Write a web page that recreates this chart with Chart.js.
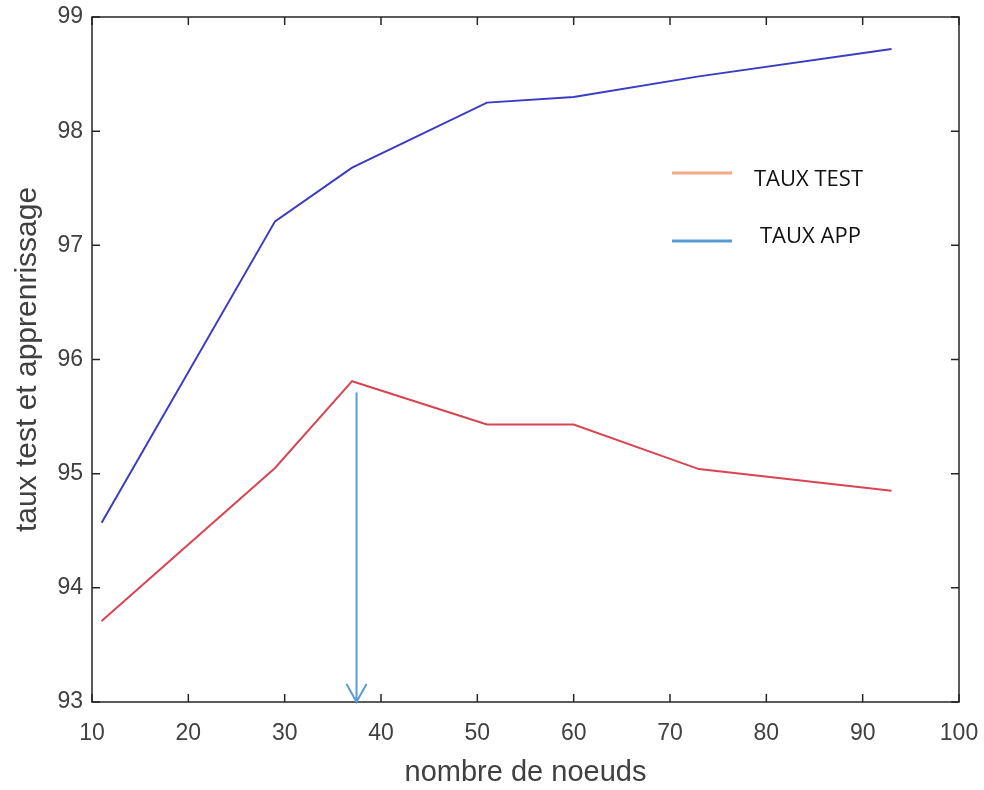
<!DOCTYPE html>
<html>
<head>
<meta charset="utf-8">
<script src="https://cdn.jsdelivr.net/npm/chart.js@4"></script>
<style>
  html, body { margin: 0; padding: 0; background: #fff; }
  #wrap { width: 984px; height: 790px; }
</style>
</head>
<body>
<div id="wrap"><canvas id="chart"></canvas></div>
<script>
// data
var nodes = [11, 29, 37, 51, 60, 73, 93];
var tauxApp = [94.57, 97.21, 97.68, 98.25, 98.30, 98.48, 98.72];
var tauxTest = [93.71, 95.05, 95.81, 95.43, 95.43, 95.04, 94.85];
var arrowX = [37.46, 37.46];
var arrowY = [95.71, 93];
var legendLabels = ["TAUX TEST", "TAUX APP"];
var legendColors = ["#F4AA86", "#5B9BD5"];

// =========================================
// BOX, INWARD TICKS, ARROW, LEGEND
// =========================================
var decorPlugin = {
    id: "decor",
    afterDatasetsDraw: function (chart) {
        var ctx = chart.ctx;
        var a = chart.chartArea;
        var xs = chart.scales.x;
        var ys = chart.scales.y;

        ctx.save();

        // box
        ctx.strokeStyle = "#262626";
        ctx.lineWidth = 1.5;
        ctx.strokeRect(a.left, a.top, a.right - a.left, a.bottom - a.top);

        // ticks inside on all sides
        xs.ticks.forEach(function (t) {
            var px = xs.getPixelForValue(t.value);
            ctx.beginPath();
            ctx.moveTo(px, a.bottom);
            ctx.lineTo(px, a.bottom - 8);
            ctx.moveTo(px, a.top);
            ctx.lineTo(px, a.top + 8);
            ctx.stroke();
        });
        ys.ticks.forEach(function (t) {
            var py = ys.getPixelForValue(t.value);
            ctx.beginPath();
            ctx.moveTo(a.left, py);
            ctx.lineTo(a.left + 8, py);
            ctx.moveTo(a.right, py);
            ctx.lineTo(a.right - 8, py);
            ctx.stroke();
        });

        // arrow
        var ax = xs.getPixelForValue(arrowX[0]);
        var ay0 = ys.getPixelForValue(arrowY[0]);
        var ay1 = ys.getPixelForValue(arrowY[1]);
        ctx.strokeStyle = "#5B9BD5";
        ctx.lineWidth = 2;
        ctx.beginPath();
        ctx.moveTo(ax, ay0);
        ctx.lineTo(ax, ay1);
        ctx.moveTo(ax - 10, ay1 - 18);
        ctx.lineTo(ax, ay1);
        ctx.lineTo(ax + 10, ay1 - 18);
        ctx.stroke();

        // legend
        var lx = a.left + 580;
        var lineY = [a.top + 156, a.top + 224];
        var textY = [a.top + 163, a.top + 220];
        var textX = [lx + 82, lx + 88];
        ctx.font = "22px 'Open Sans', sans-serif";
        ctx.textBaseline = "middle";
        ctx.textAlign = "left";
        for (var i = 0; i < legendLabels.length; i++) {
            ctx.strokeStyle = legendColors[i];
            ctx.lineWidth = 3;
            ctx.beginPath();
            ctx.moveTo(lx, lineY[i]);
            ctx.lineTo(lx + 60, lineY[i]);
            ctx.stroke();
            ctx.fillStyle = "#111";
            ctx.fillText(legendLabels[i], textX[i], textY[i]);
        }

        ctx.restore();
    }
};

var tickFont = { family: "'Liberation Sans', Arial, sans-serif", size: 23 };
var titleFont = { family: "'Liberation Sans', Arial, sans-serif", size: 29 };

new Chart(document.getElementById("chart"), {
    type: "line",
    data: {
        datasets: [
            {
                label: "TAUX APP",
                data: nodes.map(function (n, i) { return { x: n, y: tauxApp[i] }; }),
                borderColor: "#3B3BC4",
                borderWidth: 2,
                pointRadius: 0,
                tension: 0
            },
            {
                label: "TAUX TEST",
                data: nodes.map(function (n, i) { return { x: n, y: tauxTest[i] }; }),
                borderColor: "#D94452",
                borderWidth: 2,
                pointRadius: 0,
                tension: 0
            }
        ]
    },
    options: {
        responsive: true,
        maintainAspectRatio: false,
        animation: false,
        layout: { padding: { top: 17, right: 25, left: 0, bottom: 0 } },
        plugins: {
            legend: { display: false },
            tooltip: { enabled: false }
        },
        scales: {
            x: {
                type: "linear",
                min: 10,
                max: 100,
                border: { display: false },
                grid: { display: false, drawTicks: false },
                ticks: {
                    stepSize: 10,
                    padding: 18,
                    color: "#404040",
                    font: tickFont
                },
                title: {
                    display: true,
                    text: "nombre de noeuds",
                    color: "#404040",
                    padding: { top: 4, bottom: 0 },
                    font: titleFont
                },
                afterFit: function (s) {
                    s.height = 88;
                    s.paddingLeft = 0;
                    s.paddingRight = 0;
                }
            },
            y: {
                min: 93,
                max: 99,
                border: { display: false },
                grid: { display: false, drawTicks: false },
                ticks: {
                    stepSize: 1,
                    padding: 9,
                    color: "#404040",
                    font: tickFont
                },
                title: {
                    display: true,
                    text: "taux test et apprenrissage",
                    color: "#404040",
                    padding: { top: 10, bottom: 0 },
                    font: { family: titleFont.family, size: 30 }
                },
                afterFit: function (s) {
                    s.width = 92;
                    s.paddingTop = 0;
                    s.paddingBottom = 0;
                }
            }
        }
    },
    plugins: [decorPlugin]
});
</script>
</body>
</html>
